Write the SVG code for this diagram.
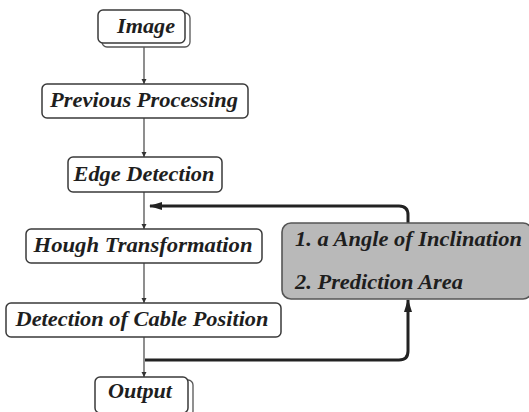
<svg xmlns="http://www.w3.org/2000/svg" width="529" height="412" viewBox="0 0 529 412">
<defs>
<style>
.box{fill:#fff;stroke:#3a3a3a;stroke-width:1.5}
.back{fill:#fff;stroke:#555;stroke-width:1.3}
.gbox{fill:#b9b9b9;stroke:#555;stroke-width:1.6}
.t{font-family:"Liberation Serif","Times New Roman",serif;font-weight:bold;font-style:italic;font-size:20px;fill:#1e1e1e}
.thin{fill:none;stroke:#444;stroke-width:1.2}
.thick{fill:none;stroke:#222;stroke-width:3}
</style>
<marker id="sm" markerWidth="6" markerHeight="6" refX="5" refY="3" orient="auto" markerUnits="userSpaceOnUse">
<path d="M0,0.5 L5,3 L0,5.5 Z" fill="#333"/>
</marker>
<marker id="big" markerWidth="14" markerHeight="10" refX="12" refY="5" orient="auto" markerUnits="userSpaceOnUse">
<path d="M0,1 L13,5 L0,9 Z" fill="#222"/>
</marker>
</defs>
<g id="connectors">
<line class="thin" x1="144" y1="47" x2="144" y2="84" marker-end="url(#sm)"/>
<line class="thin" x1="144" y1="118" x2="144" y2="157" marker-end="url(#sm)"/>
<line class="thin" x1="144" y1="192" x2="144" y2="229" marker-end="url(#sm)"/>
<line class="thin" x1="144" y1="263" x2="144" y2="303" marker-end="url(#sm)"/>
<line class="thin" x1="144" y1="337" x2="144" y2="377" marker-end="url(#sm)"/>
<path class="thick" d="M408,223 L408,215 Q408,206 399,206 L150,206" marker-end="url(#big)"/>
<path class="thick" d="M145,360 L399,360 Q408,360 408,351 L408,300" marker-end="url(#big)"/>
</g>
<g id="image">
<rect class="back" x="102" y="13" width="88" height="34" rx="5"/>
<rect class="box" x="98" y="10" width="87" height="33" rx="5"/>
<text class="t" x="146" y="33" text-anchor="middle" textLength="58" lengthAdjust="spacingAndGlyphs">Image</text>
</g>
<g id="previous">
<rect class="box" x="42" y="84" width="206" height="34" rx="5"/>
<text class="t" x="144" y="107" text-anchor="middle" textLength="188" lengthAdjust="spacingAndGlyphs">Previous Processing</text>
</g>
<g id="edge">
<rect class="box" x="68" y="157" width="154" height="35" rx="5"/>
<text class="t" x="144" y="181" text-anchor="middle" textLength="141" lengthAdjust="spacingAndGlyphs">Edge Detection</text>
</g>
<g id="hough">
<rect class="box" x="26" y="229" width="236" height="34" rx="5"/>
<text class="t" x="143" y="252" text-anchor="middle" textLength="219" lengthAdjust="spacingAndGlyphs">Hough Transformation</text>
</g>
<g id="detection">
<rect class="box" x="6" y="303" width="275" height="34" rx="5"/>
<text class="t" x="142" y="326" text-anchor="middle" textLength="253" lengthAdjust="spacingAndGlyphs">Detection of Cable Position</text>
</g>
<g id="output">
<rect class="back" x="99" y="380" width="94" height="36" rx="5"/>
<rect class="box" x="95" y="377" width="93" height="36" rx="5"/>
<text class="t" x="140" y="398" text-anchor="middle" textLength="64" lengthAdjust="spacingAndGlyphs">Output</text>
</g>
<g id="params">
<rect class="gbox" x="282" y="223" width="250" height="76" rx="9"/>
<text class="t" x="295" y="246" textLength="227" lengthAdjust="spacingAndGlyphs">1. a Angle of Inclination</text>
<text class="t" x="295" y="289" textLength="168" lengthAdjust="spacingAndGlyphs">2. Prediction Area</text>
</g>
</svg>
